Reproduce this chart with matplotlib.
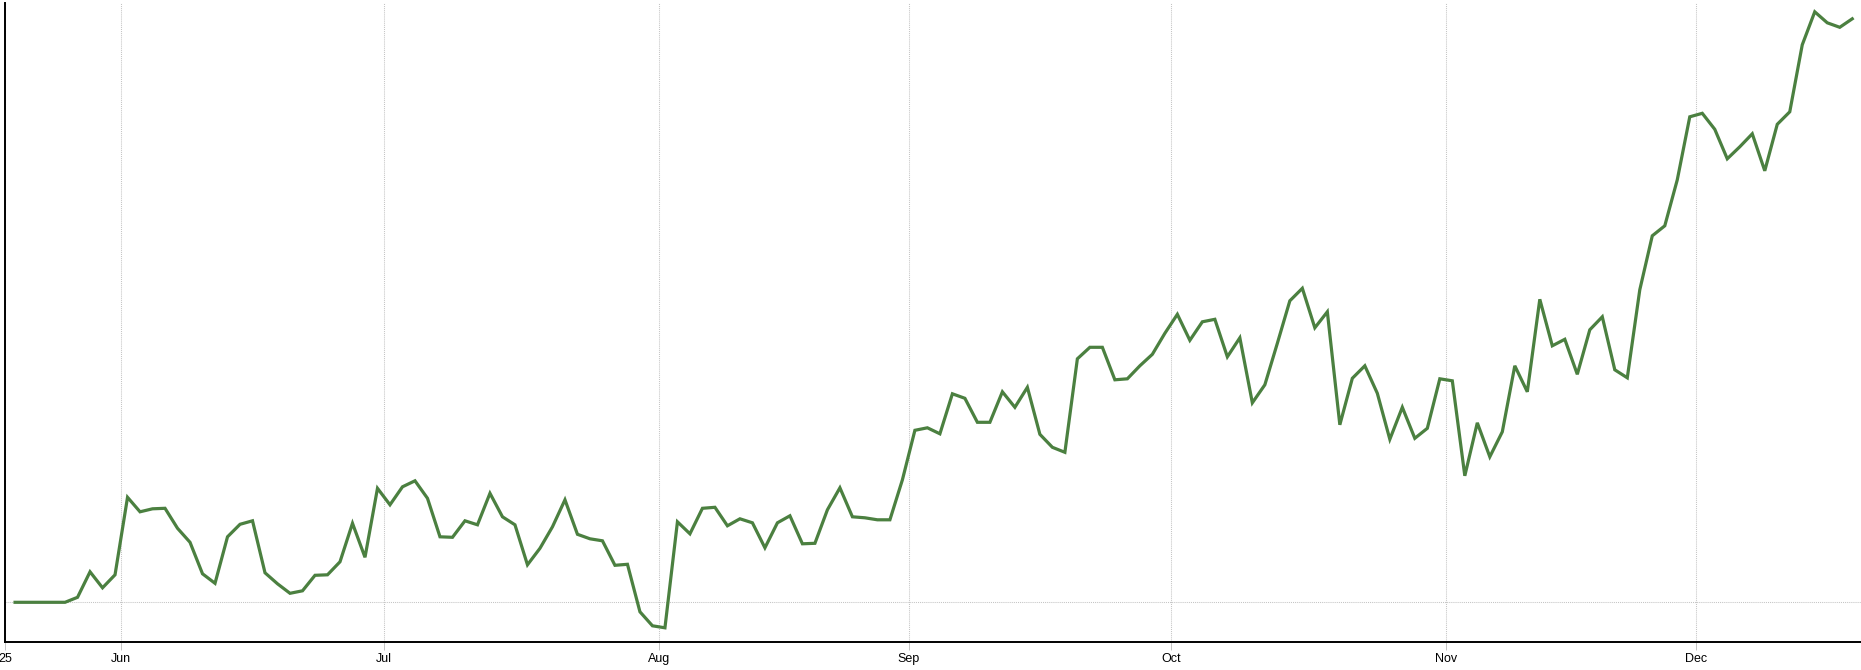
import matplotlib.pyplot as plt
import numpy as np

# cumulative return (%) per trading day
vals = [0, 0, 0, 0, 0, 1.0, 6.1, 2.9, 5.5, 21.0,
        18.1, 18.7, 18.8, 14.8, 12.0, 5.7, 3.8, 13.1, 15.6, 16.3,
        5.9, 3.7, 1.8, 2.3, 5.4, 5.5, 8.1, 15.8, 9.0, 22.8,
        19.5, 23.1, 24.3, 20.8, 13.1, 13.0, 16.3, 15.5, 21.8, 17.1,
        15.5, 7.5, 10.8, 15.1, 20.5, 13.6, 12.7, 12.3, 7.4, 7.6,
        -1.9, -4.7, -5.1, 16.1, 13.7, 18.8, 19.0, 15.3, 16.7, 15.9,
        10.9, 15.9, 17.3, 11.7, 11.8, 18.5, 22.9, 17.1, 16.9, 16.5,
        16.5, 24.5, 34.4, 34.9, 33.7, 41.7, 40.8, 36.0, 36.0, 42.1,
        39.0, 43.0, 33.6, 31.0, 30.0, 48.7, 51.0, 51.0, 44.5, 44.7,
        47.3, 49.6, 53.8, 57.6, 52.4, 56.1, 56.6, 49.1, 52.9, 39.9,
        43.5, 51.8, 60.3, 62.8, 54.9, 58.1, 35.5, 44.8, 47.3, 41.8,
        32.6, 39.0, 32.8, 34.8, 44.7, 44.3, 25.3, 35.9, 29.1, 34.1,
        47.3, 42.1, 60.6, 51.3, 52.6, 45.6, 54.5, 57.1, 46.5, 44.9,
        62.5, 73.3, 75.3, 84.5, 97.1, 97.8, 94.6, 88.7, 91.1, 93.7,
        86.3, 95.6, 98.1, 111.5, 118.1, 115.9, 115.0, 116.7]

# month boundaries (between trading days)
month_pos = [8.5, 29.5, 51.5, 71.5, 92.5, 114.5, 134.5]
month_lab = ["Jun", "Jul", "Aug", "Sep", "Oct", "Nov", "Dec"]

x = np.arange(len(vals))

plt.rcParams['font.family'] = ['Liberation Sans', 'DejaVu Sans']

fig = plt.figure(figsize=(18.61, 6.70), dpi=100)
ax = fig.add_axes([5.3/1861, 28.3/670, 1 - 5.3/1861, (641.7-3)/670])

grid = '#c4c4c4'
ax.grid(True, color=grid, linestyle=(0, (1, 1)), linewidth=0.75)
ax.plot(x, vals, color='#4b8040', linewidth=2.3, solid_joinstyle='miter', zorder=3)

ax.set_xlim(-0.78, 147.7)
ax.set_ylim(-7.88, 119.86)

ax.set_xticks([-0.78] + month_pos)
ax.set_xticklabels(["25"] + month_lab, fontsize=9)
ax.set_yticks([0])
ax.set_yticklabels([])
ax.tick_params(axis='y', length=0)
ax.tick_params(axis='x', length=6, width=0.7, color=grid, pad=2)

for s in ['top', 'right']:
    ax.spines[s].set_visible(False)
ax.spines['left'].set_linewidth(1.4)
ax.spines['bottom'].set_linewidth(1.4)

plt.savefig("out.png", dpi=100)
